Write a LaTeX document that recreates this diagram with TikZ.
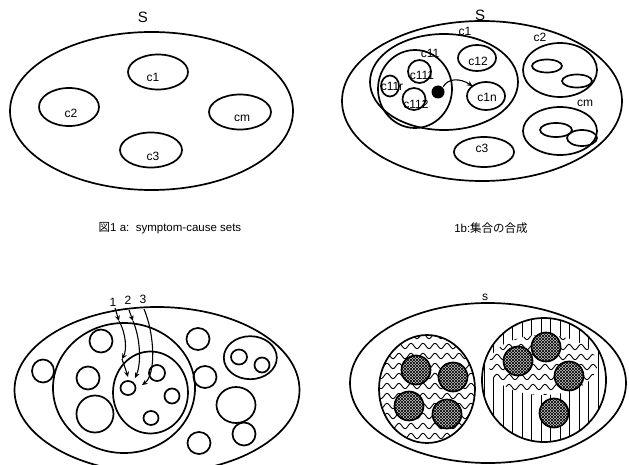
\documentclass[tikz,border=0pt]{standalone}
\usepackage{fontspec}
\setmainfont{Liberation Sans}
\newfontfamily\cjk{Noto Sans CJK JP}
\usetikzlibrary{arrows.meta,patterns,shapes.geometric}
\begin{document}
\begin{tikzpicture}[x=1pt,y=-1pt,line width=1.7pt,
  setshape/.style={ellipse, draw, inner sep=0pt, outer sep=0pt},
  sz/.style 2 args={minimum width=#1pt, minimum height=#2pt},
  lbl/.style={inner sep=0pt, font=\fontsize{12}{12}\selectfont},
  biglbl/.style={inner sep=0pt, font=\fontsize{15}{15}\selectfont},
  captxt/.style={inner sep=0pt, font=\fontsize{11.5}{12}\selectfont},
  arr/.style={line width=1.1pt, -{Stealth[length=5.5pt,width=5pt]}},
  darkset/.style={setshape, sz={29}{29}, preaction={fill=black!22}, pattern=north east lines, postaction={pattern=north west lines}},
  waveline/.style={line width=0.9pt},
  stripeline/.style={line width=1pt},
]
\useasboundingbox (0,0) rectangle (629,465);

% ---------- panel a ----------
\node[setshape, sz={283}{158}] (Sa) at (151.5,111) {};
\node[setshape, sz={60}{35}] (a1) at (158,72) {};
\node[setshape, sz={60}{38}] (a2) at (69,107) {};
\node[setshape, sz={62}{35}] (am) at (240,112) {};
\node[setshape, sz={62}{35}] (a3) at (151,150) {};
\node[biglbl] (aS) at (143,17) {S};
\node[lbl] (la1) at (153,77) {c1};
\node[lbl] (la2) at (71,113) {c2};
\node[lbl] (lam) at (242,118) {cm};
\node[lbl] (la3) at (153,156) {c3};
\node[captxt] (capa) at (170,228) {{\cjk 図}1 a:\ \ symptom-cause sets};

% ---------- panel b ----------
\node[setshape, sz={280}{160}] (Sb) at (482,101) {};
\node[setshape, sz={148}{96}] (b1) at (444,82) {};
\node[setshape, sz={74}{78}] (b11) at (415,89) {};
\node[setshape, sz={18}{21}] (b11r) at (390,86) {};
\node[setshape, sz={23}{23}] (b111) at (419.5,71.5) {};
\node[setshape, sz={23}{22}] (b112) at (414,99) {};
\node[circle, fill=black, minimum size=13pt, inner sep=0pt] (dot) at (438,92) {};
\node[setshape, sz={38}{26}] (b12) at (477,58) {};
\node[setshape, sz={38}{28}] (b1n) at (486,96) {};
\node[setshape, sz={74}{54}] (b2) at (560,70) {};
\node[setshape, sz={30}{13}] (b2a) at (547,66) {};
\node[setshape, sz={30}{13}] (b2b) at (577,81) {};
\node[setshape, sz={74}{48}] (bm) at (560,131) {};
\node[setshape, sz={32}{14}] (bma) at (556,130) {};
\node[setshape, sz={30}{16}] (bmb) at (582,138) {};
\node[setshape, sz={60}{30}] (b3) at (484,152) {};
\draw[arr] (dot.north east) .. controls (448,78) and (460,78) .. (b1n.north west);
\node[biglbl] (bS) at (480,15) {S};
\node[lbl] (lb1) at (465,31) {c1};
\node[lbl] (lb11) at (430,53) {c11};
\node[lbl] (lb11r) at (392,86) {c11r};
\node[lbl] (lb111) at (422,75) {c111};
\node[lbl] (lb112) at (416,104) {c112};
\node[lbl] (lb12) at (478,61) {c12};
\node[lbl] (lb1n) at (487,97) {c1n};
\node[lbl] (lb2) at (540,37) {c2};
\node[lbl] (lbm) at (585,103) {cm};
\node[lbl] (lb3) at (482,148) {c3};
\node[captxt] (capb) at (491,228) {1b:{\cjk 集合の合成}};

% ---------- panel c ----------
\node[setshape, sz={285}{166}] (Sc) at (157,390) {};
\node[setshape, sz={142}{130}] (c1) at (124,388) {};
\node[setshape, sz={75}{82}] (c11) at (150.5,392.5) {};
\node[setshape, sz={15}{14}] (c111) at (128,388) {};
\node[setshape, sz={16}{16}] (c112) at (157,373) {};
\node[setshape, sz={15}{15}] (c113) at (172,396) {};
\node[setshape, sz={15}{14}] (c114) at (151,418) {};
\node[setshape, sz={23}{23}] (c12) at (101,341) {};
\node[setshape, sz={23}{23}] (c13) at (88,378) {};
\node[setshape, sz={37}{37}] (c14) at (95,414) {};
\node[setshape, sz={22}{23}] (c2) at (43,371) {};
\node[setshape, sz={23}{22}] (c3) at (198,339) {};
\node[setshape, sz={23}{22}] (c4) at (205,377) {};
\node[setshape, sz={39}{36}] (c5) at (236,405) {};
\node[setshape, sz={23}{23}] (c6) at (244,434) {};
\node[setshape, sz={23}{22}] (c7) at (199,443) {};
\node[setshape, sz={53}{43}] (c8) at (250.3,357.7) {};
\node[setshape, sz={16}{15}] (c8a) at (239,357) {};
\node[setshape, sz={15}{15}] (c8b) at (262,365) {};
\node[lbl] (n1) at (113,302) {1};
\node[lbl] (n2) at (128,300) {2};
\node[lbl] (n3) at (143,299) {3};
\coordinate (p1a) at (115,308);
\coordinate (p1b) at (119,321);
\coordinate (p1c) at (122,359);
\coordinate (p1d) at (128,377);
\coordinate (p2a) at (129,310);
\coordinate (p2b) at (133,321);
\coordinate (p2c) at (135,378);
\coordinate (p3a) at (144,309);
\coordinate (p3c) at (142,385);
\draw[arr] (p1a) -- (p1b);
\draw[arr] (p1b) .. controls (126,333) and (127,350) .. (p1c);
\draw[arr] (p1c) .. controls (125,366) .. (p1d);
\draw[arr] (p2a) -- (p2b);
\draw[arr] (p2b) .. controls (141,340) and (141,365) .. (p2c);
\draw[arr] (p3a) .. controls (155,335) and (156,375) .. (p3c);

% ---------- panel d ----------
\begin{scope}
  \clip (427,389) ellipse [x radius=48pt, y radius=54pt];
  \foreach \y in {336,346,...,446}
    \draw[waveline] plot[domain=378:476, samples=80, smooth] (\x,{\y+2.7*sin((\x-378)*30)});
\end{scope}
\begin{scope}
  \clip (544,380) ellipse [x radius=62pt, y radius=62pt];
  \foreach \x in {484,493.5,...,606} \draw[stripeline] (\x,316) -- (\x,444);
  \fill[white] (543,365) ellipse [x radius=54pt, y radius=30pt];
  \clip (543,365) ellipse [x radius=54pt, y radius=30pt];
  \foreach \y in {337,347,...,397}
    \draw[waveline] plot[domain=488:600, samples=80, smooth] (\x,{\y+2.7*sin((\x-488)*30)});
\end{scope}
\node[setshape, sz={276}{160}] (Sd) at (488,383) {};
\node[setshape, sz={96}{108}] (dL) at (427,389) {};
\node[setshape, sz={124}{124}] (dR) at (544,380) {};
\node[darkset] (k1) at (416,370) {};
\node[darkset] (k2) at (453,377) {};
\node[darkset] (k3) at (409,406) {};
\node[darkset] (k4) at (447,414) {};
\node[darkset] (k5) at (546,347) {};
\node[darkset] (k6) at (518,361) {};
\node[darkset] (k7) at (569,376) {};
\node[darkset] (k8) at (554,413) {};
\node[lbl] (dS) at (485,297) {s};
\end{tikzpicture}
\end{document}
